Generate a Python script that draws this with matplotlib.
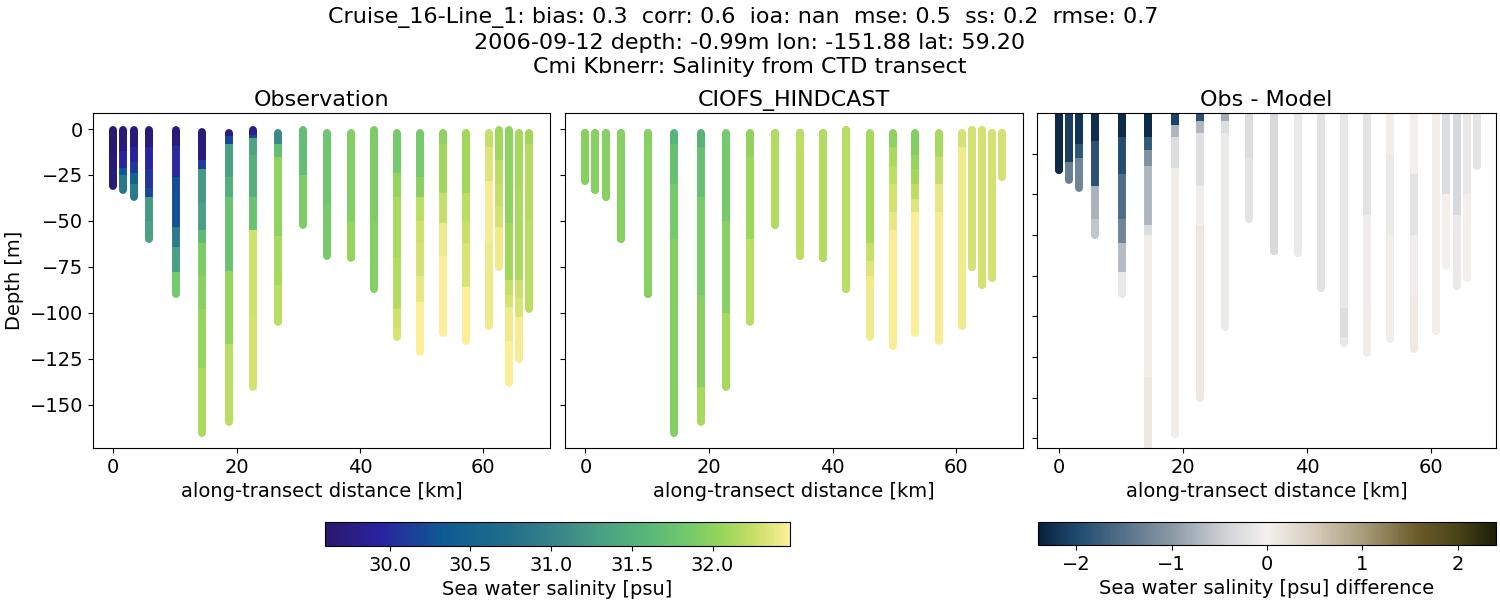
import numpy as np
import matplotlib
matplotlib.use("Agg")
import matplotlib.pyplot as plt
from matplotlib.cm import ScalarMappable
from matplotlib.collections import LineCollection
from matplotlib.colors import LinearSegmentedColormap, Normalize

distance = [0, 1.6, 3.3, 5.8, 10.1, 14.4, 18.7, 22.7, 26.7, 30.7, 34.7,
            38.5, 42.2, 46, 49.7, 53.4, 57.2, 60.9, 62.5, 64.2, 65.8, 67.4]

# per station: depth break points, and the salinity between them
obs_depth = [
    [0.5, 15, 31], [0.5, 12, 21, 25, 33], [0.5, 10, 18, 24, 30, 37],
    [0.5, 10, 22, 32, 37, 50, 60], [0.5, 9, 26, 53, 64, 78, 89.5],
    [1.5, 17, 22, 40, 55, 62, 80, 98, 130, 165], [2, 4, 8, 26, 37, 77, 117, 159],
    [0.5, 3, 5, 14, 37, 55, 100, 140], [2, 8, 15, 58, 85, 105], [0.5, 25, 52],
    [2, 40, 69], [2, 50, 70], [0.5, 50, 87], [2, 24, 37, 70, 98, 108, 113],
    [2, 26, 37, 50, 62, 80, 94, 121], [2, 8, 35, 51, 69, 111], [2, 35, 50, 62, 86, 115],
    [2, 10, 28, 62, 107], [0.5, 17, 30, 42, 53, 75], [0.5, 51, 82, 90, 97, 115, 138],
    [2, 33, 82, 92, 102, 125], [2, 8, 50, 98],
]
obs_sal = [
    [29.65, 29.7], [29.7, 29.95, 30.3, 30.85], [29.7, 29.9, 30.1, 30.5, 30.9],
    [29.7, 29.95, 30.05, 30.2, 31.25, 31.3], [29.7, 30.0, 30.25, 30.9, 31.3, 31.85],
    [29.7, 30.1, 31.25, 31.3, 31.65, 31.9, 31.97, 32.05, 32.15], [29.75, 30.2, 31.3, 31.5, 31.75, 32.05, 32.2],
    [29.8, 30.2, 31.35, 31.5, 31.75, 32.28, 32.3], [31.1, 31.7, 32.0, 32.12, 32.2], [31.7, 31.9],
    [31.8, 31.85], [31.95, 32.03], [31.9, 31.95], [31.85, 32.03, 32.12, 32.18, 32.28, 32.33],
    [31.85, 31.97, 32.2, 32.28, 32.3, 32.38, 32.48], [32.0, 32.1, 32.25, 32.42, 32.48], [32.1, 32.2, 32.25, 32.33, 32.48],
    [32.25, 32.35, 32.45, 32.42], [32.1, 32.2, 32.25, 32.3, 32.42], [32.0, 32.1, 32.25, 32.32, 32.42, 32.48],
    [32.12, 32.15, 32.28, 32.33, 32.45], [32.1, 32.18, 32.2],
]

model_depth = [
    [2, 28], [2, 33], [2, 37], [2, 60], [2, 89.5],
    [2, 8, 30, 60, 165], [2, 10, 37, 90, 140, 159], [2, 50, 100, 140],
    [2, 15, 60, 105], [2, 52], [2, 69], [2, 70], [0.5, 87],
    [2, 62, 72, 80, 113], [2, 10, 20, 30, 45, 55, 118], [2, 14, 22, 30, 38, 45, 111],
    [2, 15, 30, 45, 115], [2, 10, 107], [0.5, 75], [0.5, 85], [2, 81], [2, 26],
]
model_sal = [
    [31.97], [31.97], [31.97], [31.97], [31.97],
    [31.55, 31.72, 31.85, 31.95], [31.55, 31.72, 31.88, 31.97, 32.12], [31.85, 31.97, 32.12],
    [32.02, 32.08, 32.2], [32.17], [32.2], [32.17], [32.2],
    [32.12, 32.25, 32.35, 32.42], [32.0, 32.12, 32.2, 32.3, 32.38, 32.46], [31.95, 32.03, 32.1, 32.22, 32.35, 32.48],
    [32.12, 32.25, 32.38, 32.45], [32.3, 32.42], [32.3], [32.3], [32.3], [32.3],
]

diff_depth = [
    [0, 28], [0, 24, 33], [0, 15, 22, 37], [0, 14, 36, 52, 60],
    [0, 12, 30, 52, 64, 78, 89], [0, 12, 18, 26, 55, 60, 130, 170],
    [0, 6, 12, 27, 158], [0, 4, 10, 36, 55, 140], [0, 4, 10, 105], [0, 22, 52],
    [0, 68], [0, 69], [0, 86], [0, 96, 110, 113], [0, 50, 100, 118],
    [0, 20, 60, 111], [0, 30, 60, 90, 116], [0, 107], [0, 40, 75], [0, 50, 85],
    [0, 40, 81], [0, 26],
]
diff_val = [
    [-2.3], [-2.1, -1.3], [-2.2, -1.85, -1.25], [-2.25, -1.9, -0.75, -0.55],
    [-2.3, -1.95, -1.55, -1.25, -0.65, -0.15], [-2.3, -1.8, -1.1, -0.7, -0.3, 0.04, 0.1],
    [-2.05, -0.7, -0.3, 0.04], [-1.9, -0.7, -0.25, 0.03, 0.13], [-0.8, -0.3, -0.1], [-0.3, -0.2],
    [-0.35], [-0.1], [-0.22], [-0.15, -0.3, -0.12], [-0.2, -0.05, 0.04],
    [0.02, -0.1, 0.05], [0, -0.2, -0.05, 0.08], [0.03], [-0.3, 0.0], [-0.35, -0.12],
    [-0.15, 0.0], [-0.18],
]

haline = LinearSegmentedColormap.from_list("haline", [
    (0.0, "#2a186c"), (0.12, "#2a23a0"), (0.25, "#0e5a93"), (0.4, "#216f8b"),
    (0.5, "#38858a"), (0.6, "#4aa283"), (0.7, "#5ab878"), (0.78, "#73c96c"),
    (0.86, "#9ad65a"), (0.93, "#cbe06a"), (1.0, "#fdee99")])
diff_cmap = LinearSegmentedColormap.from_list("diff", [
    (0.0, "#08203e"), (0.083, "#1e4a6e"), (0.29, "#8a98a5"), (0.42, "#d5d7da"),
    (0.5, "#f4f0ee"), (0.6, "#d6cdbd"), (0.708, "#a99e7c"), (0.83, "#6b5a2a"),
    (0.917, "#4a4418"), (1.0, "#1c1e06")])

sal_norm = Normalize(29.6, 32.48)
diff_norm = Normalize(-2.4, 2.4)


def draw_stations(ax, depths, values, cmap, norm):
    for x, d, v in zip(distance, depths, values):
        segs = [[(x, -d[i]), (x, -d[i + 1])] for i in range(len(v))]
        # round ends below, flat joins on top so the colour steps stay straight
        ends = LineCollection([segs[0], segs[-1]], cmap=cmap, norm=norm, linewidths=5.7, capstyle="round")
        ends.set_array(np.array([v[0], v[-1]]))
        ax.add_collection(ends)
        lc = LineCollection(segs, cmap=cmap, norm=norm, linewidths=5.7, capstyle="butt")
        lc.set_array(np.array(v))
        ax.add_collection(lc)


plt.rcParams["font.size"] = 14

fig = plt.figure(figsize=(15, 6), dpi=100)
H = 335 / 600
bottom = 1 - 448 / 600
ax1 = fig.add_axes([93 / 1500, bottom, 457 / 1500, H])
ax2 = fig.add_axes([565 / 1500, bottom, 458 / 1500, H])
ax3 = fig.add_axes([1037 / 1500, bottom, 459 / 1500, H])

draw_stations(ax1, obs_depth, obs_sal, haline, sal_norm)
draw_stations(ax2, model_depth, model_sal, haline, sal_norm)
draw_stations(ax3, diff_depth, diff_val, diff_cmap, diff_norm)

for ax, title in zip([ax1, ax2, ax3], ["Observation", "CIOFS_HINDCAST", "Obs - Model"]):
    ax.set_xticks([0, 20, 40, 60])
    ax.set_xlabel("along-transect distance [km]", fontsize=14)
    ax.set_title(title, fontsize=16, pad=5)
    ax.tick_params(labelsize=14)

ax1.set_xlim(-3.3, 70.8)
ax2.set_xlim(-3.3, 70.8)
ax3.set_xlim(-3.55, 70.5)
ax1.set_ylim(-173.4, 8.7)
ax2.set_ylim(-173.4, 8.7)
ax3.set_ylim(-164.7, 0)
ax1.set_yticks([-150, -125, -100, -75, -50, -25, 0])
ax2.set_yticks([-150, -125, -100, -75, -50, -25, 0])
ax2.set_yticklabels([])
ax3.set_yticks([-160, -140, -120, -100, -80, -60, -40, -20])
ax3.set_yticklabels([])
ax1.set_ylabel("Depth [m]", fontsize=14, labelpad=4)

fig.suptitle("Cruise_16-Line_1: bias: 0.3  corr: 0.6  ioa: nan  mse: 0.5  ss: 0.2  rmse: 0.7  \n"
             "2006-09-12 depth: -0.99m lon: -151.88 lat: 59.20\n"
             "Cmi Kbnerr: Salinity from CTD transect", y=0.988, fontsize=16, linespacing=1.28)

cax1 = fig.add_axes([325 / 1500, 1 - 546 / 600, 465 / 1500, 24 / 600])
cb1 = fig.colorbar(ScalarMappable(sal_norm, haline), cax=cax1, orientation="horizontal")
cb1.set_ticks([30.0, 30.5, 31.0, 31.5, 32.0])
cb1.set_label("Sea water salinity [psu]", fontsize=14)
cb1.ax.tick_params(labelsize=14)

cax2 = fig.add_axes([1038 / 1500, 1 - 545 / 600, 458 / 1500, 23 / 600])
cb2 = fig.colorbar(ScalarMappable(diff_norm, diff_cmap), cax=cax2, orientation="horizontal")
cb2.set_ticks([-2, -1, 0, 1, 2])
cb2.set_label("Sea water salinity [psu] difference", fontsize=14)
cb2.ax.tick_params(labelsize=14)

fig.savefig("out.png", dpi=100)
